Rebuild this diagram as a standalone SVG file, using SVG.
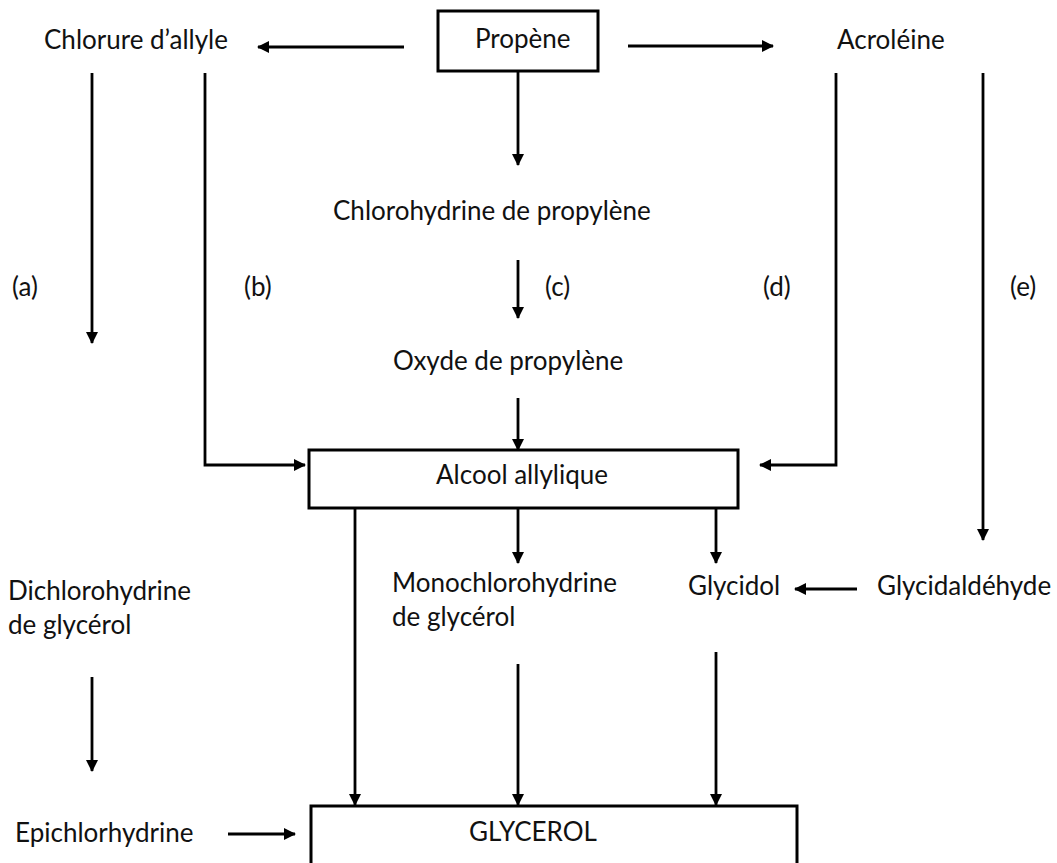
<svg xmlns="http://www.w3.org/2000/svg" width="1057" height="863" viewBox="0 0 1057 863">
<defs>
<marker id="ah" markerWidth="12" markerHeight="12" refX="11" refY="6" orient="auto" markerUnits="userSpaceOnUse">
<path d="M0,0 L12,6 L0,12 Z" fill="#000"/>
</marker>
<style>
text{font-family:Lato,"Liberation Sans",sans-serif;font-size:26px;fill:#111}
.box{fill:#fff;stroke:#000;stroke-width:3}
.c{fill:none;stroke:#000;stroke-width:2.8}
.a{marker-end:url(#ah)}
</style>
</defs>
<rect width="1057" height="863" fill="#fff"/>
<g id="connectors">
<path class="c a" d="M404,47 H258"/>
<path class="c a" d="M628,46 H773"/>
<path class="c a" d="M518,72 V165"/>
<path class="c a" d="M92,73 V343"/>
<path class="c a" d="M205,73 V465 H305"/>
<path class="c a" d="M836,73 V465 H760"/>
<path class="c a" d="M983,73 V540"/>
<path class="c a" d="M518,260 V318"/>
<path class="c a" d="M518,398 V450"/>
<path class="c a" d="M355,509 V805"/>
<path class="c a" d="M518,509 V563"/>
<path class="c a" d="M716,509 V563"/>
<path class="c a" d="M857,589 H795"/>
<path class="c a" d="M92,677 V771"/>
<path class="c a" d="M518,664 V805"/>
<path class="c a" d="M716,652 V805"/>
<path class="c a" d="M228,834 H295"/>
</g>
<g id="propene"><rect class="box" x="438" y="11" width="160" height="60"/><text x="475" y="48">Propène</text></g>
<g id="chlorure"><text x="44" y="49">Chlorure d’allyle</text></g>
<g id="acroleine"><text x="837" y="49">Acroléine</text></g>
<g id="chlorohydrine"><text x="333" y="220">Chlorohydrine de propylène</text></g>
<g id="label-a"><text x="12" y="296">(a)</text></g>
<g id="label-b"><text x="244" y="296">(b)</text></g>
<g id="label-c"><text x="545" y="296">(c)</text></g>
<g id="label-d"><text x="763" y="296">(d)</text></g>
<g id="label-e"><text x="1010" y="296">(e)</text></g>
<g id="oxyde"><text x="393" y="370">Oxyde de propylène</text></g>
<g id="alcool"><rect class="box" x="309" y="450" width="429" height="58"/><text x="522" y="484" text-anchor="middle">Alcool allylique</text></g>
<g id="dichloro"><text x="8" y="600">Dichlorohydrine</text><text x="8" y="634">de glycérol</text></g>
<g id="monochloro"><text x="392" y="592">Monochlorohydrine</text><text x="392" y="626">de glycérol</text></g>
<g id="glycidol"><text x="688" y="595">Glycidol</text></g>
<g id="glycidaldehyde"><text x="877" y="595">Glycidaldéhyde</text></g>
<g id="epichlor"><text x="15" y="842">Epichlorhydrine</text></g>
<g id="glycerol"><rect class="box" x="311" y="806" width="486" height="70"/><text x="533" y="841" text-anchor="middle">GLYCEROL</text></g>
</svg>
